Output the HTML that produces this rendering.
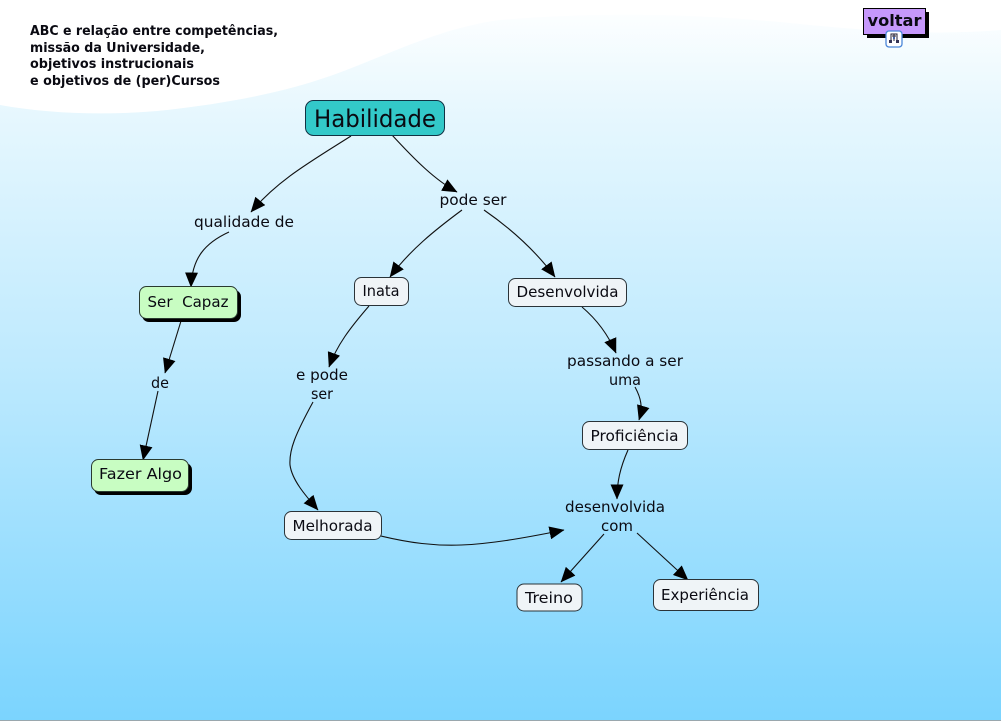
<!DOCTYPE html>
<html><head><meta charset="utf-8"><style>
html,body{margin:0;padding:0;width:1001px;height:721px;overflow:hidden;background:#fff}
svg{display:block}
text{font-family:"DejaVu Sans","Liberation Sans",sans-serif;fill:#0a0a12}
.l{fill:none;stroke:#111;stroke-width:1.1}
.n{fill:#eff4f7;stroke:#2a3338;stroke-width:1}
.g{fill:#c8fdc2;stroke:#2a3a30;stroke-width:1}
.t{font-size:15px;text-anchor:middle}
.h{font-size:13px;font-weight:bold}
</style></head><body>
<svg width="1001" height="721" viewBox="0 0 1001 721" xmlns="http://www.w3.org/2000/svg">
<defs>
<linearGradient id="bg" x1="0" y1="0" x2="0" y2="1">
<stop offset="0" stop-color="#ffffff"/>
<stop offset="0.16" stop-color="#e6f7fe"/>
<stop offset="0.5" stop-color="#bfeafe"/>
<stop offset="1" stop-color="#7bd4fe"/>
</linearGradient>
<marker id="a" viewBox="0 0 15 13" refX="14.500" refY="6.500" markerWidth="15" markerHeight="13" markerUnits="userSpaceOnUse" orient="auto"><path d="M0 0L15 6.500L0 13Z" fill="#000"/></marker>
</defs>
<rect width="1001" height="720" fill="url(#bg)"/>
<path d="M0 0H1001V30C940 35 880 32 800 24C720 16 620 10 500 20C440 28 390 54 333 75C280 94 220 104 167 110C110 116 50 114 0 105Z" fill="#fff"/>
<rect y="720" width="1001" height="1" fill="#9aa7ad"/>

<path class="l" marker-end="url(#a)" d="M351 136C310 162 278 180 251 212"/>
<path class="l" marker-end="url(#a)" d="M229 232C205 243 192 258 191 287"/>
<path class="l" marker-end="url(#a)" d="M392 135C415 160 435 180 457 192"/>
<path class="l" marker-end="url(#a)" d="M462 210C435 230 410 250 390 277"/>
<path class="l" marker-end="url(#a)" d="M484 210C510 228 535 250 555 277"/>
<path class="l" marker-end="url(#a)" d="M181 321L165 373"/>
<path class="l" marker-end="url(#a)" d="M158 391L143 460"/>
<path class="l" marker-end="url(#a)" d="M369 306C350 328 337 345 329 367"/>
<path class="l" marker-end="url(#a)" d="M313 402C295 435 289 450 290 465C292 480 305 495 318 510"/>
<path class="l" marker-end="url(#a)" d="M582 307C595 318 607 332 616 353"/>
<path class="l" marker-end="url(#a)" d="M635 387C641 398 643 407 639 420"/>
<path class="l" marker-end="url(#a)" d="M628 450C620 468 617 482 617 499"/>
<path class="l" marker-end="url(#a)" d="M381 536C440 550 475 548 564 530"/>
<path class="l" marker-end="url(#a)" d="M604 534L561 582"/>
<path class="l" marker-end="url(#a)" d="M637 533L688 580"/>

<!-- Habilidade -->
<rect x="305.500" y="100.500" width="139" height="35" rx="8" fill="#33c9c9" stroke="#134" stroke-width="1"/>
<text x="375" y="127" font-size="24" text-anchor="middle" textLength="122" lengthAdjust="spacingAndGlyphs">Habilidade</text>

<!-- Title -->
<text class="h" x="30" y="35" textLength="248" lengthAdjust="spacingAndGlyphs">ABC e relação entre competências,</text>
<text class="h" x="30" y="52" textLength="175" lengthAdjust="spacingAndGlyphs">missão da Universidade,</text>
<text class="h" x="30" y="68" textLength="164" lengthAdjust="spacingAndGlyphs">objetivos instrucionais</text>
<text class="h" x="30" y="85" textLength="190" lengthAdjust="spacingAndGlyphs">e objetivos de (per)Cursos</text>

<!-- voltar -->
<rect x="867" y="12" width="62" height="26" fill="#000"/>
<rect x="863.500" y="8.500" width="62" height="26" fill="#c698fb" stroke="#000" stroke-width="1"/>
<text x="894.500" y="26" font-size="16" font-weight="bold" text-anchor="middle" textLength="54" lengthAdjust="spacingAndGlyphs">voltar</text>
<rect x="886" y="31" width="16" height="16" rx="3" fill="#fff" stroke="#4a86d8" stroke-width="1.300"/>
<path d="M891 36V34H897V36M892 36H896M891 36V42M897 36V42M894 34V41" fill="none" stroke="#223" stroke-width="1"/>
<rect x="889" y="40" width="3" height="3" fill="#335"/><rect x="896" y="40" width="3" height="3" fill="#335"/><rect x="893" y="37" width="2" height="2" fill="#46a"/>

<!-- green nodes -->
<rect x="142" y="290" width="99" height="32" rx="7" fill="#000"/>
<rect x="139.500" y="286.500" width="98" height="32" rx="7" class="g"/>
<text class="t" x="188" y="307" textLength="81" lengthAdjust="spacingAndGlyphs" xml:space="preserve">Ser  Capaz</text>
<rect x="94" y="463" width="98" height="32" rx="7" fill="#000"/>
<rect x="91.500" y="459.500" width="97" height="32" rx="7" class="g"/>
<text class="t" x="140.500" y="479" textLength="83" lengthAdjust="spacingAndGlyphs">Fazer Algo</text>

<!-- white nodes -->
<rect x="354.500" y="277.500" width="54" height="28" rx="7" class="n"/>
<text class="t" x="381" y="296" textLength="37" lengthAdjust="spacingAndGlyphs">Inata</text>
<rect x="508.500" y="278.500" width="118" height="28" rx="7" class="n"/>
<text class="t" x="567.500" y="297" textLength="102" lengthAdjust="spacingAndGlyphs">Desenvolvida</text>
<rect x="582.500" y="421.500" width="105" height="28" rx="7" class="n"/>
<text class="t" x="634.500" y="441" textLength="88" lengthAdjust="spacingAndGlyphs">Proficiência</text>
<rect x="284.500" y="511.500" width="97" height="28" rx="7" class="n"/>
<text class="t" x="332.500" y="531" textLength="80" lengthAdjust="spacingAndGlyphs">Melhorada</text>
<rect x="517" y="584" width="65" height="27" rx="7" class="n"/>
<text class="t" x="549" y="603" textLength="48" lengthAdjust="spacingAndGlyphs">Treino</text>
<rect x="653.500" y="579.500" width="105" height="31" rx="7" class="n"/>
<text class="t" x="705" y="600" textLength="88" lengthAdjust="spacingAndGlyphs">Experiência</text>

<!-- link labels -->
<text class="t" x="244" y="227" textLength="100" lengthAdjust="spacingAndGlyphs">qualidade de</text>
<text class="t" x="473" y="205" textLength="67" lengthAdjust="spacingAndGlyphs">pode ser</text>
<text class="t" x="160" y="388" textLength="18" lengthAdjust="spacingAndGlyphs">de</text>
<text class="t" x="322" y="380" textLength="52" lengthAdjust="spacingAndGlyphs">e pode</text>
<text class="t" x="322" y="399" textLength="22" lengthAdjust="spacingAndGlyphs">ser</text>
<text class="t" x="625" y="366" textLength="116" lengthAdjust="spacingAndGlyphs">passando a ser</text>
<text class="t" x="625" y="385" textLength="32" lengthAdjust="spacingAndGlyphs">uma</text>
<text class="t" x="615" y="512" textLength="100" lengthAdjust="spacingAndGlyphs">desenvolvida</text>
<text class="t" x="617" y="531" textLength="32" lengthAdjust="spacingAndGlyphs">com</text>
</svg>
</body></html>
